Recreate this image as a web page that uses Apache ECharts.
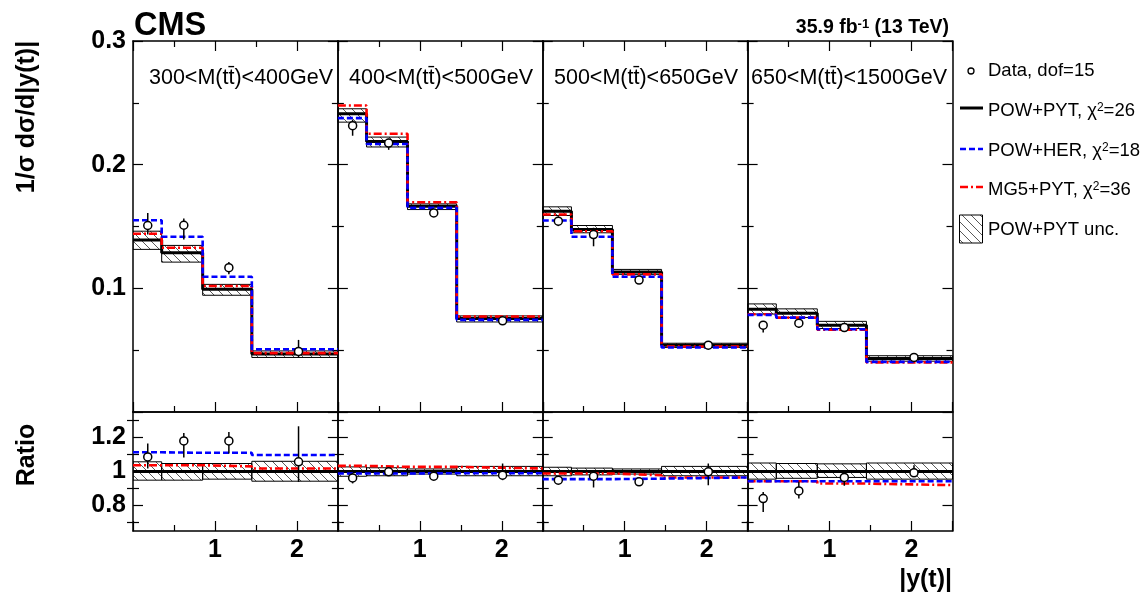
<!DOCTYPE html>
<html><head><meta charset="utf-8">
<script src="https://cdn.jsdelivr.net/npm/echarts@6/dist/echarts.min.js"></script>
<style>html,body{margin:0;padding:0;background:#fff}#c{width:1148px;height:594px}</style>
</head><body><div id="c"></div>
<script>
// ---------------- data ----------------
const binEdges = [0, 0.35, 0.85, 1.45, 2.5];
const massBins = ['300<M(tt\u0304)<400GeV', '400<M(tt\u0304)<500GeV', '500<M(tt\u0304)<650GeV', '650<M(tt\u0304)<1500GeV'];
const xTickValues = [1, 2];
const xTickLabels = ['1', '2'];
const yTopTickValues = [0.1, 0.2, 0.3];
const yTopTickLabels = ['0.1', '0.2', '0.3'];
const ratioTickValues = [0.8, 1, 1.2];
const ratioTickLabels = ['0.8', '1', '1.2'];
const ratioMinorTickValues = [0.7, 0.9, 1.1, 1.3];
const legendLabels = ['Data, dof=15', 'POW+PYT, \u03c7{sup|2}=26', 'POW+HER, \u03c7{sup|2}=18', 'MG5+PYT, \u03c7{sup|2}=36', 'POW+PYT unc.'];

// normalized cross sections (per panel, per |y(t)| bin)
const powpyt = [
  [0.1390, 0.1288, 0.0992, 0.0470],
  [0.2411, 0.2188, 0.1664, 0.0756],
  [0.1624, 0.1476, 0.1132, 0.0540],
  [0.0831, 0.0798, 0.0702, 0.0433]];
const powher = [
  [0.1551, 0.1417, 0.1094, 0.0508],
  [0.2376, 0.2167, 0.1651, 0.0745],
  [0.1548, 0.1417, 0.1094, 0.0522],
  [0.0785, 0.0763, 0.0669, 0.0405]];
const mg5pyt = [
  [0.1441, 0.1328, 0.1019, 0.0476],
  [0.2478, 0.2250, 0.1696, 0.0772],
  [0.1597, 0.1462, 0.1113, 0.0530],
  [0.0790, 0.0763, 0.0665, 0.0401]];
const uncLo = [
  [0.1315, 0.1212, 0.0944, 0.0441],
  [0.2344, 0.2143, 0.1637, 0.0728],
  [0.1589, 0.1449, 0.1113, 0.0522],
  [0.0792, 0.0764, 0.0675, 0.0411]];
const uncHi = [
  [0.1462, 0.1347, 0.1032, 0.0494],
  [0.2452, 0.2223, 0.1683, 0.0777],
  [0.1659, 0.1508, 0.1153, 0.0556],
  [0.0874, 0.0834, 0.0733, 0.0455]];
const dataX = [
  [0.18, 0.62, 1.17, 2.02],
  [0.18, 0.62, 1.17, 2.01],
  [0.19, 0.62, 1.175, 2.02],
  [0.19, 0.625, 1.18, 2.03]];
const dataVal = [
  [0.1508, 0.1510, 0.1167, 0.0490],
  [0.2315, 0.2175, 0.1610, 0.0737],
  [0.1543, 0.1435, 0.1067, 0.0540],
  [0.0702, 0.0718, 0.0683, 0.0441]];
const dataLo = [
  [0.1435, 0.1395, 0.1113, 0.0443],
  [0.2234, 0.2120, 0.1580, 0.0720],
  [0.1503, 0.1340, 0.1050, 0.0530],
  [0.0643, 0.0680, 0.0670, 0.0435]];
const dataHi = [
  [0.1610, 0.1565, 0.1212, 0.0583],
  [0.2363, 0.2210, 0.1640, 0.0755],
  [0.1583, 0.1490, 0.1090, 0.0550],
  [0.0723, 0.0750, 0.0695, 0.0447]];

// ratios to POW+PYT
const ratioPowpyt = [[1, 1, 1, 1], [1, 1, 1, 1], [1, 1, 1, 1], [1, 1, 1, 1]];
const ratioPowher = [
  [1.113, 1.110, 1.110, 1.097],
  [0.988, 0.988, 0.990, 0.990],
  [0.955, 0.955, 0.958, 0.965],
  [0.943, 0.943, 0.943, 0.943]];
const ratioMg5pyt = [
  [1.037, 1.037, 1.030, 1.018],
  [1.033, 1.027, 1.027, 1.018],
  [0.988, 0.988, 0.978, 0.965],
  [0.943, 0.943, 0.929, 0.920]];
const ratioUncLo = [
  [0.949, 0.949, 0.955, 0.943],
  [0.972, 0.975, 0.985, 0.975],
  [0.975, 0.980, 0.985, 0.975],
  [0.955, 0.960, 0.965, 0.955]];
const ratioUncHi = [
  [1.057, 1.047, 1.047, 1.060],
  [1.027, 1.022, 1.015, 1.030],
  [1.025, 1.020, 1.015, 1.030],
  [1.050, 1.047, 1.045, 1.050]];
const ratioData = [
  [1.086, 1.180, 1.180, 1.057],
  [0.962, 0.998, 0.972, 0.978],
  [0.949, 0.972, 0.939, 0.998],
  [0.841, 0.886, 0.965, 0.992]];
const ratioDataLo = [
  [1.018, 1.082, 1.106, 0.939],
  [0.930, 0.990, 0.960, 0.949],
  [0.935, 0.906, 0.932, 0.919],
  [0.762, 0.841, 0.916, 0.968]];
const ratioDataHi = [
  [1.165, 1.227, 1.233, 1.266],
  [0.990, 1.006, 0.985, 1.047],
  [0.960, 1.008, 0.946, 1.047],
  [0.880, 0.939, 1.000, 1.037]];

// ---------------- layout / style ----------------
const FONT = "'Liberation Sans', Arial, Helvetica, sans-serif";
const X_LEFT = 133, X_RIGHT = 952.5, TOP_Y = 41, MID_Y = 412, BOT_Y = 531;
const PW = (X_RIGHT - X_LEFT) / 4;
const AXL = {color: '#000', width: 1.5};
const TKL = {color: '#000', width: 1.2};
const BLACK = '#000000', BLUE = '#0000ff', RED = '#ff0000';

// hatch pattern
const hc = document.createElement('canvas');
hc.width = 9; hc.height = 9;
const hx = hc.getContext('2d');
hx.strokeStyle = '#303030'; hx.lineWidth = 0.8;
hx.beginPath();
hx.moveTo(-1, -1); hx.lineTo(10, 10);
hx.moveTo(-1, 8); hx.lineTo(1, 10);
hx.moveTo(8, -1); hx.lineTo(10, 1);
hx.stroke();
const hatch = {image: hc, repeat: 'repeat'};

function lab(values, labels, v) {
  const i = values.findIndex(t => Math.abs(t - v) < 1e-6);
  return i < 0 ? '' : labels[i];
}
const labelFont = {color: '#000', fontFamily: FONT, fontWeight: 'bold', fontSize: 25};

const grids = [], xAxes = [], yAxes = [], series = [];
for (let p = 0; p < 4; p++) grids.push({left: X_LEFT + p * PW, top: TOP_Y, width: PW, height: MID_Y - TOP_Y});
for (let p = 0; p < 4; p++) grids.push({left: X_LEFT + p * PW, top: MID_Y, width: PW, height: BOT_Y - MID_Y});

function xAx(g, pos, ticks, labels) {
  return {type: 'value', gridIndex: g, position: pos, min: 0, max: 2.5, interval: 1,
    axisLine: {show: true, onZero: false, lineStyle: AXL},
    axisTick: {show: ticks, inside: true, length: 10, lineStyle: TKL},
    minorTick: {show: ticks, splitNumber: 2, length: 6, lineStyle: TKL},
    splitLine: {show: false},
    axisLabel: Object.assign({show: labels, customValues: xTickValues, margin: 7,
      formatter: v => lab(xTickValues, xTickLabels, v)}, labelFont)};
}
const xIdx = [], yIdx = [];
for (let g = 0; g < 8; g++) {
  const isRatio = g >= 4;
  xIdx[g] = xAxes.length;
  xAxes.push(xAx(g, 'bottom', true, isRatio));
  xAxes.push(xAx(g, 'top', !isRatio, false));
  const p = g % 4;
  yIdx[g] = yAxes.length;
  ['left', 'right'].forEach(pos => {
    const showLab = (p === 0 && pos === 'left');
    if (!isRatio) {
      yAxes.push({type: 'value', gridIndex: g, position: pos, min: 0, max: 0.3, interval: 0.1,
        axisLine: {show: true, onZero: false, lineStyle: AXL},
        axisTick: {show: true, inside: true, length: 10, lineStyle: TKL},
        minorTick: {show: true, splitNumber: 2, length: 6, lineStyle: TKL},
        splitLine: {show: false},
        axisLabel: Object.assign({show: showLab, customValues: yTopTickValues, margin: 7,
          formatter: v => lab(yTopTickValues, yTopTickLabels, v)}, labelFont)});
    } else {
      yAxes.push({type: 'value', gridIndex: g, position: pos, min: 0.65, max: 1.35,
        axisLine: {show: true, onZero: false, lineStyle: AXL},
        axisTick: {show: true, inside: true, length: 10, lineStyle: TKL, customValues: ratioTickValues},
        splitLine: {show: false},
        axisLabel: Object.assign({show: showLab, customValues: ratioTickValues, margin: 7,
          formatter: v => lab(ratioTickValues, ratioTickLabels, v)}, labelFont)});
      yAxes.push({type: 'value', gridIndex: g, position: pos, min: 0.65, max: 1.35,
        axisLine: {show: false},
        axisTick: {show: true, inside: true, length: 6, lineStyle: TKL, customValues: ratioMinorTickValues},
        splitLine: {show: false},
        axisLabel: {show: false}});
    }
  });
}

function steps(vals) {
  const d = vals.map((v, i) => [binEdges[i], v]);
  d.push([binEdges[binEdges.length - 1], vals[vals.length - 1]]);
  return d;
}
function addPanel(g, p, ref, her, mg5, lo, hi, dv, dlo, dhi) {
  const xa = xIdx[g], ya = yIdx[g];
  series.push({type: 'custom', xAxisIndex: xa, yAxisIndex: ya, z: 1, clip: true,
    data: lo[p].map((l, i) => [binEdges[i], binEdges[i + 1], l, hi[p][i]]),
    encode: {x: [0, 1], y: [2, 3]},
    renderItem: (params, api) => {
      const a = api.coord([api.value(0), api.value(3)]);
      const b = api.coord([api.value(1), api.value(2)]);
      return {type: 'rect', shape: {x: a[0], y: a[1], width: b[0] - a[0], height: b[1] - a[1]},
        style: {fill: hatch, stroke: '#000', lineWidth: 1}};
    }});
  series.push({type: 'line', xAxisIndex: xa, yAxisIndex: ya, z: 2, step: 'end', symbol: 'none',
    data: steps(ref[p]), lineStyle: {color: BLACK, width: 3}});
  series.push({type: 'line', xAxisIndex: xa, yAxisIndex: ya, z: 3, step: 'end', symbol: 'none',
    data: steps(mg5[p]), lineStyle: {color: RED, width: 2.6, type: [8, 3, 2, 3]}});
  series.push({type: 'line', xAxisIndex: xa, yAxisIndex: ya, z: 4, step: 'end', symbol: 'none',
    data: steps(her[p]), lineStyle: {color: BLUE, width: 2.6, type: [6, 3]}});
  series.push({type: 'custom', xAxisIndex: xa, yAxisIndex: ya, z: 5, clip: true,
    data: dv[p].map((v, i) => [dataX[p][i], dlo[p][i], dhi[p][i]]),
    encode: {x: 0, y: [1, 2]},
    renderItem: (params, api) => {
      const a = api.coord([api.value(0), api.value(1)]);
      const b = api.coord([api.value(0), api.value(2)]);
      return {type: 'line', shape: {x1: a[0], y1: a[1], x2: b[0], y2: b[1]},
        style: {stroke: '#000', lineWidth: 1.5}};
    }});
  series.push({type: 'scatter', xAxisIndex: xa, yAxisIndex: ya, z: 6, symbol: 'circle', symbolSize: 8,
    data: dv[p].map((v, i) => [dataX[p][i], v]),
    itemStyle: {color: '#fff', borderColor: '#000', borderWidth: 1.5, opacity: 1}});
}
for (let p = 0; p < 4; p++) {
  addPanel(p, p, powpyt, powher, mg5pyt, uncLo, uncHi, dataVal, dataLo, dataHi);
  addPanel(4 + p, p, ratioPowpyt, ratioPowher, ratioMg5pyt, ratioUncLo, ratioUncHi, ratioData, ratioDataLo, ratioDataHi);
}

// ---------------- texts & legend ----------------
function txt(x, y, text, size, bold, align, extra, supSize) {
  return Object.assign({type: 'text', x: x, y: y, z: 100,
    style: {text: text, fill: '#000', fontFamily: FONT, fontSize: size, fontWeight: bold ? 'bold' : 'normal',
      textAlign: align, align: align, textVerticalAlign: 'middle', verticalAlign: 'middle',
      rich: {sup: {fontSize: supSize || 12, verticalAlign: 'top', lineHeight: 12, fontFamily: FONT,
        fontWeight: bold ? 'bold' : 'normal'}}}}, extra || {});
}
const panelLabelX = [241, 441, 646, 849];
const graphic = [
  txt(134, 26, 'CMS', 32.5, true, 'left'),
  txt(949, 28, '35.9 fb{sup|-1} (13 TeV)', 19.5, true, 'right', null, 13),
  txt(27, 117, '1/\u03c3 d\u03c3/d|y(t)|', 25, true, 'center', {rotation: Math.PI / 2}),
  txt(27, 455, 'Ratio', 25, true, 'center', {rotation: Math.PI / 2}),
  txt(952, 580, '|y(t)|', 25, true, 'right'),
];
massBins.forEach((m, i) => graphic.push(txt(panelLabelX[i], 78, m, 21.5, false, 'center')));
// legend
const LX = 988, LF = 18.5;
graphic.push({type: 'circle', shape: {cx: 971, cy: 71, r: 3}, style: {fill: '#fff', stroke: '#000', lineWidth: 1.3}, z: 100});
graphic.push(txt(LX, 71, legendLabels[0], LF, false, 'left'));
graphic.push({type: 'line', shape: {x1: 960, y1: 108, x2: 983, y2: 108}, style: {stroke: BLACK, lineWidth: 3}, z: 100});
graphic.push(txt(LX, 111, legendLabels[1], LF, false, 'left'));
graphic.push({type: 'line', shape: {x1: 960, y1: 149, x2: 983, y2: 149}, style: {stroke: BLUE, lineWidth: 2.6, lineDash: [6, 3]}, z: 100});
graphic.push(txt(LX, 151, legendLabels[2], LF, false, 'left'));
graphic.push({type: 'line', shape: {x1: 960, y1: 187, x2: 983, y2: 187}, style: {stroke: RED, lineWidth: 2.6, lineDash: [8, 3, 2, 3]}, z: 100});
graphic.push(txt(LX, 190, legendLabels[3], LF, false, 'left'));
graphic.push({type: 'rect', shape: {x: 959.5, y: 215, width: 23, height: 28}, style: {fill: hatch, stroke: '#000', lineWidth: 1}, z: 100});
graphic.push(txt(LX, 230, legendLabels[4], LF, false, 'left'));

const chart = echarts.init(document.getElementById('c'), null, {renderer: 'canvas'});
chart.setOption({
  animation: false,
  backgroundColor: '#fff',
  grid: grids, xAxis: xAxes, yAxis: yAxes, series: series, graphic: graphic
});
</script></body></html>
